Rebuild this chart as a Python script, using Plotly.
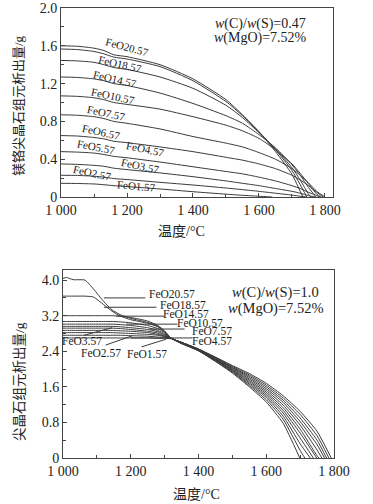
import plotly.graph_objects as go

# ---------------- data: upper panel (w(C)/w(S)=0.47) ----------------
series_names = ["FeO20.57", "FeO18.57", "FeO14.57", "FeO10.57", "FeO7.57", "FeO6.57",
                "FeO5.57", "FeO4.57", "FeO3.57", "FeO2.57", "FeO1.57"]

top_T = [1000, 1050, 1100, 1130, 1160, 1200, 1300, 1400, 1500, 1550, 1600, 1650, 1700, 1725, 1750, 1775]
top_vals = [
    [1.60, 1.595, 1.575, 1.55, 1.505, 1.485, 1.40, 1.25, 1.03, 0.87, 0.69, 0.48, 0.24, 0.06],
    [1.566, 1.56, 1.54, 1.515, 1.48, 1.46, 1.38, 1.23, 1.01, 0.86, 0.69, 0.50, 0.28, 0.13],
    [1.445, 1.44, 1.425, 1.40, 1.37, 1.35, 1.27, 1.15, 0.97, 0.84, 0.68, 0.51, 0.31, 0.18, 0.03],
    [1.27, 1.265, 1.25, 1.23, 1.20, 1.18, 1.10, 0.99, 0.86, 0.78, 0.66, 0.52, 0.34, 0.23, 0.10],
    [1.07, 1.065, 1.05, 1.03, 1.00, 0.98, 0.93, 0.85, 0.76, 0.70, 0.62, 0.50, 0.35, 0.25, 0.14, 0.03],
    [0.87, 0.865, 0.85, 0.83, 0.80, 0.78, 0.72, 0.64, 0.57, 0.53, 0.47, 0.40, 0.30, 0.23, 0.15, 0.06],
    [0.65, 0.645, 0.63, 0.615, 0.59, 0.575, 0.53, 0.48, 0.42, 0.39, 0.35, 0.30, 0.23, 0.18, 0.12, 0.05],
    [0.48, 0.475, 0.465, 0.45, 0.43, 0.415, 0.37, 0.32, 0.27, 0.245, 0.21, 0.17, 0.12, 0.09, 0.05, 0.015],
    [0.35, 0.345, 0.335, 0.325, 0.305, 0.29, 0.255, 0.215, 0.17, 0.145, 0.12, 0.09, 0.06, 0.04, 0.015],
    [0.23, 0.228, 0.22, 0.21, 0.195, 0.185, 0.155, 0.127, 0.095, 0.078, 0.06, 0.04, 0.02, 0.008],
    [0.145, 0.143, 0.138, 0.13, 0.12, 0.11, 0.085, 0.056, 0.03, 0.018, 0.008],
]
top_end = [1733, 1745, 1757, 1773, 1788, 1800, 1795, 1785, 1770, 1745, 1640]

# label positions (temperature, amount, rotation)
top_lab_T = [1201, 1179, 1164, 1158, 1138, 1123, 1108, 1255, 1242, 1096, 1229]
top_lab_v = [1.587, 1.403, 1.251, 1.071, 0.894, 0.692, 0.533, 0.506, 0.329, 0.258, 0.117]
top_lab_rot = [15, 13, 13, 12, 12, 12, 11, 12, 12, 12, 5]

# ---------------- data: lower panel (w(C)/w(S)=1.0) ----------------
bot_T = [1000, 1010, 1030, 1065, 1090, 1120, 1145, 1170, 1200, 1250, 1280, 1300, 1320,
         1350, 1400, 1450, 1500, 1550, 1600, 1650, 1700, 1750]
bot_vals = [
    [4.04, 4.06, 4.01, 4.00, 3.80, 3.52, 3.33, 3.22, 3.14, 3.05, 2.96, 2.84, 2.69, 2.60, 2.45, 2.27, 2.08, 1.90, 1.68, 1.40, 1.05, 0.60],
    [3.64, 3.64, 3.64, 3.64, 3.62, 3.45, 3.30, 3.19, 3.11, 3.03, 2.95, 2.83, 2.69, 2.60, 2.45, 2.26, 2.06, 1.87, 1.64, 1.35, 0.98, 0.50],
    [3.20, 3.20, 3.20, 3.20, 3.20, 3.20, 3.20, 3.19, 3.16, 3.08, 2.98, 2.86, 2.69, 2.60, 2.45, 2.25, 2.04, 1.84, 1.60, 1.30, 0.90, 0.40],
    [3.07, 3.07, 3.07, 3.07, 3.07, 3.07, 3.07, 3.06, 3.04, 2.98, 2.91, 2.82, 2.69, 2.60, 2.44, 2.24, 2.03, 1.81, 1.56, 1.25, 0.82, 0.30],
    [3.01, 3.01, 3.01, 3.01, 3.01, 3.01, 3.01, 3.00, 2.98, 2.93, 2.87, 2.79, 2.69, 2.59, 2.44, 2.23, 2.01, 1.78, 1.52, 1.19, 0.74, 0.18],
    [2.96, 2.96, 2.96, 2.96, 2.96, 2.96, 2.96, 2.95, 2.93, 2.89, 2.84, 2.77, 2.69, 2.59, 2.43, 2.22, 1.99, 1.75, 1.48, 1.13, 0.65, 0.05],
    [2.92, 2.92, 2.92, 2.92, 2.92, 2.92, 2.92, 2.91, 2.89, 2.85, 2.81, 2.75, 2.69, 2.59, 2.43, 2.21, 1.98, 1.72, 1.44, 1.07, 0.56],
    [2.87, 2.87, 2.87, 2.87, 2.87, 2.87, 2.87, 2.86, 2.85, 2.82, 2.78, 2.74, 2.69, 2.58, 2.42, 2.20, 1.96, 1.69, 1.40, 1.01, 0.45],
    [2.82, 2.82, 2.82, 2.82, 2.82, 2.82, 2.82, 2.81, 2.80, 2.78, 2.76, 2.73, 2.69, 2.58, 2.42, 2.19, 1.95, 1.66, 1.36, 0.94, 0.32],
    [2.76, 2.76, 2.76, 2.76, 2.76, 2.76, 2.76, 2.76, 2.75, 2.74, 2.72, 2.71, 2.69, 2.58, 2.41, 2.18, 1.93, 1.63, 1.31, 0.87, 0.17],
    [2.70, 2.70, 2.70, 2.70, 2.70, 2.70, 2.70, 2.70, 2.70, 2.70, 2.69, 2.69, 2.68, 2.57, 2.41, 2.17, 1.91, 1.60, 1.26, 0.78],
]
bot_end = [1792, 1785, 1778, 1772, 1764, 1756, 1749, 1739, 1730, 1714, 1699]

# labels with leader lines
bot_lab_T = [1321, 1353, 1363, 1403, 1440, 1440, 1055, 1112, 1247]
bot_lab_v = [3.68, 3.44, 3.24, 3.04, 2.86, 2.64, 2.64, 2.37, 2.33]
bot_lab_txt = ["FeO20.57", "FeO18.57", "FeO14.57", "FeO10.57", "FeO7.57", "FeO4.57",
               "FeO3.57", "FeO2.57", "FeO1.57"]
lead_x0 = [1121, 1121, 1157, 1187, 1255, 1200, 1062, 1126, 1232]
lead_y0 = [3.60, 3.39, 3.19, 3.01, 2.90, 2.70, 2.76, 2.54, 2.50]
lead_x1 = [1243, 1276, 1299, 1338, 1359, 1382, 1145, 1205, 1304]
lead_y1 = [3.60, 3.39, 3.19, 3.01, 2.90, 2.70, 2.93, 2.75, 2.67]

x_ticks = [1000, 1200, 1400, 1600, 1800]
x_ticktext = ["1 000", "1 200", "1 400", "1 600", "1 800"]
top_yticks = [0, 0.4, 0.8, 1.2, 1.6, 2.0]
top_yticktext = ["0", "0.4", "0.8", "1.2", "1.6", "2.0"]
bot_yticks = [0, 0.8, 1.6, 2.4, 3.2, 4.0]
bot_yticktext = ["0", "0.8", "1.6", "2.4", "3.2", "4.0"]

SERIF = "Liberation Serif, Times New Roman, Noto Sans CJK SC, serif"
LINE = "#3a3a3a"

fig = go.Figure()

for name, vals, end in zip(series_names, top_vals, top_end):
    xs = top_T[:len(vals)] + [end]
    ys = vals + [0]
    fig.add_trace(go.Scatter(x=xs, y=ys, mode="lines", name=name,
                             line=dict(color=LINE, width=1, shape="spline", smoothing=0.6),
                             xaxis="x", yaxis="y", showlegend=False, hoverinfo="skip"))

for name, vals, end in zip(series_names, bot_vals, bot_end):
    xs = bot_T[:len(vals)] + [end]
    ys = vals + [0]
    fig.add_trace(go.Scatter(x=xs, y=ys, mode="lines", name=name,
                             line=dict(color=LINE, width=1, shape="spline", smoothing=0.5),
                             xaxis="x2", yaxis="y2", showlegend=False, hoverinfo="skip"))

for a, b, c, d in zip(lead_x0, lead_y0, lead_x1, lead_y1):
    fig.add_trace(go.Scatter(x=[a, c], y=[b, d], mode="lines",
                             line=dict(color=LINE, width=1), xaxis="x2", yaxis="y2",
                             showlegend=False, hoverinfo="skip"))

ann = []
for name, t, v, r in zip(series_names, top_lab_T, top_lab_v, top_lab_rot):
    ann.append(dict(x=t, y=v, xref="x", yref="y", text=name, showarrow=False,
                    xanchor="center", yanchor="middle",
                    textangle=r, font=dict(family=SERIF, size=11, color="#222")))
for txt, t, v in zip(bot_lab_txt, bot_lab_T, bot_lab_v):
    ann.append(dict(x=t, y=v, xref="x2", yref="y2", text=txt, showarrow=False,
                    xanchor="center", yanchor="middle",
                    font=dict(family=SERIF, size=11.5, color="#222")))

# condition boxes
ann += [
    dict(x=1605, y=1.83, xref="x", yref="y", text="<i>w</i>(C)/<i>w</i>(S)=0.47", showarrow=False,
         xanchor="center", yanchor="middle", font=dict(family=SERIF, size=14, color="#222")),
    dict(x=1605, y=1.68, xref="x", yref="y", text="<i>w</i>(MgO)=7.52%", showarrow=False,
         xanchor="center", yanchor="middle", font=dict(family=SERIF, size=14, color="#222")),
    dict(x=1628, y=3.73, xref="x2", yref="y2", text="<i>w</i>(C)/<i>w</i>(S)=1.0", showarrow=False,
         xanchor="center", yanchor="middle", font=dict(family=SERIF, size=14.5, color="#222")),
    dict(x=1628, y=3.36, xref="x2", yref="y2", text="<i>w</i>(MgO)=7.52%", showarrow=False,
         xanchor="center", yanchor="middle", font=dict(family=SERIF, size=14.5, color="#222")),
]

# axis titles
ann += [
    dict(x=0.443, y=0.504, xref="paper", yref="paper", text="温度/°C", showarrow=False,
         xanchor="center", yanchor="middle", font=dict(family=SERIF, size=14, color="#222")),
    dict(x=-0.158, y=0.784, xref="paper", yref="paper", text="镁铬尖晶石组元析出量/g", showarrow=False,
         xanchor="center", yanchor="middle",
         textangle=-90, font=dict(family=SERIF, size=13, color="#222")),
    dict(x=0.498, y=-0.082, xref="paper", yref="paper", text="温度/°C", showarrow=False,
         xanchor="center", yanchor="middle", font=dict(family=SERIF, size=14, color="#222")),
    dict(x=-0.150, y=0.169, xref="paper", yref="paper", text="尖晶石组元析出量/g", showarrow=False,
         xanchor="center", yanchor="middle",
         textangle=-90, font=dict(family=SERIF, size=13.5, color="#222")),
]

axis_common = dict(showline=True, mirror=True, linecolor="#444", linewidth=1, showgrid=False,
                   zeroline=False, ticks="inside", ticklen=4, tickcolor="#444", automargin=False,
                   tickfont=dict(family=SERIF, size=14, color="#222"))

fig.update_layout(
    width=373, height=504,
    margin=dict(l=61, r=39, t=8, b=46, autoexpand=False),
    paper_bgcolor="white", plot_bgcolor="white",
    annotations=ann,
    xaxis=dict(domain=[0, 0.996], range=[1000, 1824], anchor="y", tickvals=x_ticks,
               ticktext=x_ticktext, minor=dict(dtick=100, ticks="inside", ticklen=3, tickcolor="#444"),
               **axis_common),
    yaxis=dict(domain=[0.58, 1.0], range=[0, 2.0], anchor="x", tickvals=top_yticks,
               ticktext=top_yticktext, minor=dict(dtick=0.2, ticks="inside", ticklen=3, tickcolor="#444"),
               **axis_common),
    xaxis2=dict(domain=[0.0073, 1.0], range=[1000, 1800], anchor="y2", tickvals=x_ticks,
                ticktext=x_ticktext, minor=dict(dtick=100, ticks="inside", ticklen=3, tickcolor="#444"),
                **axis_common),
    yaxis2=dict(domain=[0, 0.418], range=[0, 4.23], anchor="x2", tickvals=bot_yticks,
                ticktext=bot_yticktext, minor=dict(dtick=0.4, ticks="inside", ticklen=3, tickcolor="#444"),
                **axis_common),
)

fig.write_html("out.html", config={"displayModeBar": False},
               post_script="document.body.style.margin='0';document.body.style.overflow='hidden';")
